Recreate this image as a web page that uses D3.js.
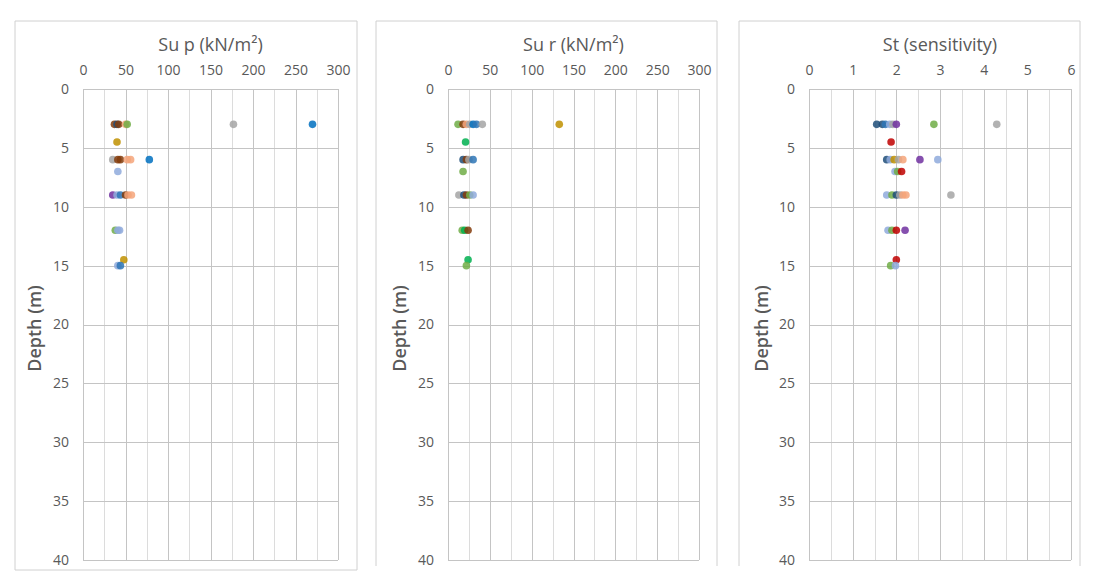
<!DOCTYPE html>
<html>
<head>
<meta charset="utf-8">
<script src="https://cdn.jsdelivr.net/npm/d3@7"></script>
<style>
  body { margin: 0; background: #fff; }
  svg text { font-family: "Open Sans", sans-serif; fill: #595959; }
</style>
</head>
<body>
<div id="chart"></div>
<script>
/* series colours (one per test series) */
var seriesColors = ["#843C0C", "#F4A47A", "#BF9000", "#0070C0", "#A5A5A5",
                    "#8FAADC", "#7030A0", "#00B050", "#70AD47", "#1F4E79",
                    "#C00000", "#2E75B6"];

/* [depth (m), value, series] */
var supData = [
  [3, 37, 0], [3, 40, 9], [3, 42, 0], [3, 50, 1], [3, 52, 8], [3, 177, 4], [3, 270, 3],
  [4.5, 40, 2],
  [6, 35, 4], [6, 41, 0], [6, 44, 0], [6, 52, 1], [6, 56, 1], [6, 78, 3],
  [7, 41, 5],
  [9, 35, 6], [9, 40, 5], [9, 44, 11], [9, 50, 0], [9, 53, 1], [9, 57, 1],
  [12, 38, 8], [12, 41, 5], [12, 43, 5],
  [14.5, 48, 2],
  [15, 41, 5], [15, 44, 11]
];

var surData = [
  [3, 12, 8], [3, 18, 0], [3, 22, 1], [3, 26, 4], [3, 30, 3], [3, 34, 11], [3, 41, 4], [3, 133, 2],
  [4.5, 21, 7],
  [6, 18, 9], [6, 22, 0], [6, 25, 4], [6, 30, 11],
  [7, 18, 8],
  [9, 13, 4], [9, 19, 9], [9, 22, 0], [9, 26, 8], [9, 30, 5],
  [12, 17, 8], [12, 20, 7], [12, 24, 0],
  [14.5, 24, 7],
  [15, 22, 8]
];

var stData = [
  [3, 1.55, 9], [3, 1.68, 9], [3, 1.75, 11], [3, 1.85, 5], [3, 1.92, 4], [3, 2.0, 6], [3, 2.86, 8], [3, 4.3, 4],
  [4.5, 1.88, 10],
  [6, 1.78, 9], [6, 1.86, 5], [6, 1.95, 2], [6, 2.05, 4], [6, 2.15, 1], [6, 2.54, 6], [6, 2.95, 5],
  [7, 1.97, 5], [7, 2.03, 8], [7, 2.12, 10],
  [9, 1.78, 5], [9, 1.9, 8], [9, 2.0, 9], [9, 2.08, 4], [9, 2.15, 1], [9, 2.22, 1], [9, 3.25, 4],
  [12, 1.81, 5], [12, 1.9, 8], [12, 2.0, 10], [12, 2.2, 6],
  [14.5, 2.0, 10],
  [15, 1.87, 8], [15, 1.98, 5]
];

var depthTicks = [0, 5, 10, 15, 20, 25, 30, 35, 40];
var suTicks = [0, 50, 100, 150, 200, 250, 300];
var stTicks = [0, 1, 2, 3, 4, 5, 6];

var panels = [
  { title: "Su p (kN/m²)", data: supData, xmax: 300, ticks: suTicks, minor: 25,
    box: [15, 21, 342, 549], boxBottom: true, plot: [83, 338], yLab: 35 },
  { title: "Su r (kN/m²)", data: surData, xmax: 300, ticks: suTicks, minor: 25,
    box: [376, 21, 341, 545], boxBottom: false, plot: [448, 699], yLab: 400 },
  { title: "St (sensitivity)", data: stData, xmax: 6, ticks: stTicks, minor: 0.5,
    box: [739, 21, 341, 545], boxBottom: false, plot: [809, 1071], yLab: 762 }
];

var W = 1095, H = 579;
var plotTop = 89, plotBottom = 560;

var svg = d3.select("#chart").append("svg")
  .attr("width", W)
  .attr("height", H);

panels.forEach(function(p) {
  var g = svg.append("g");
  var bx = p.box[0], by = p.box[1], bw = p.box[2], bh = p.box[3];

  /* chart border (panels 2 and 3 are cut off at the bottom) */
  var border = "M" + bx + "," + (by + bh) + "V" + by + "H" + (bx + bw) + "V" + (by + bh);
  if (p.boxBottom) border += "H" + bx;
  g.append("path")
    .attr("d", border)
    .attr("fill", "none")
    .attr("stroke", "#d0d0d0")
    .attr("stroke-width", 1);

  var x = d3.scaleLinear().domain([0, p.xmax]).range(p.plot);
  var y = d3.scaleLinear().domain([0, 40]).range([plotTop, plotBottom]);

  /* minor + major vertical gridlines */
  var vlines = d3.range(0, p.xmax + p.minor / 2, p.minor);
  g.selectAll(".vgrid")
    .data(vlines)
   .enter().append("line")
    .attr("x1", function(d) { return Math.round(x(d)) + 0.5; })
    .attr("x2", function(d) { return Math.round(x(d)) + 0.5; })
    .attr("y1", plotTop)
    .attr("y2", plotBottom)
    .attr("stroke", function(d, i) { return i % 2 === 0 ? "#c4c4c4" : "#dcdcdc"; })
    .attr("stroke-width", 1);

  g.selectAll(".hgrid")
    .data(depthTicks)
   .enter().append("line")
    .attr("x1", p.plot[0])
    .attr("x2", p.plot[1])
    .attr("y1", function(d) { return Math.round(y(d)) + 0.5; })
    .attr("y2", function(d) { return Math.round(y(d)) + 0.5; })
    .attr("stroke", "#c4c4c4")
    .attr("stroke-width", 1);

  /* axes: top for value, left for depth */
  var xAxis = g.append("g")
    .attr("transform", "translate(0," + plotTop + ")")
    .call(d3.axisTop(x).tickValues(p.ticks).tickFormat(d3.format("d")).tickSize(0).tickPadding(14));
  var yAxis = g.append("g")
    .attr("transform", "translate(" + p.plot[0] + ",0)")
    .call(d3.axisLeft(y).tickValues(depthTicks).tickFormat(d3.format("d")).tickSize(0).tickPadding(14));
  [xAxis, yAxis].forEach(function(a) {
    a.select(".domain").remove();
    a.selectAll("text")
      .attr("font-size", 14)
      .attr("font-family", "Open Sans, sans-serif")
      .attr("fill", "#595959");
  });

  g.append("text")
    .attr("x", (p.plot[0] + p.plot[1]) / 2)
    .attr("y", 51)
    .attr("text-anchor", "middle")
    .attr("font-size", 18)
    .text(p.title);

  g.append("text")
    .attr("transform", "translate(" + (p.yLab + 6) + "," + ((plotTop + plotBottom) / 2 + 4) + ") rotate(-90)")
    .attr("text-anchor", "middle")
    .attr("font-size", 18)
    .attr("font-weight", 600)
    .text("Depth (m)");

  g.selectAll(".pt")
    .data(p.data)
   .enter().append("circle")
    .attr("cx", function(d) { return x(d[1]); })
    .attr("cy", function(d) { return y(d[0]); })
    .attr("r", 3.8)
    .attr("fill", function(d) { return seriesColors[d[2]]; })
    .attr("fill-opacity", 0.85);
});
</script>
</body>
</html>
